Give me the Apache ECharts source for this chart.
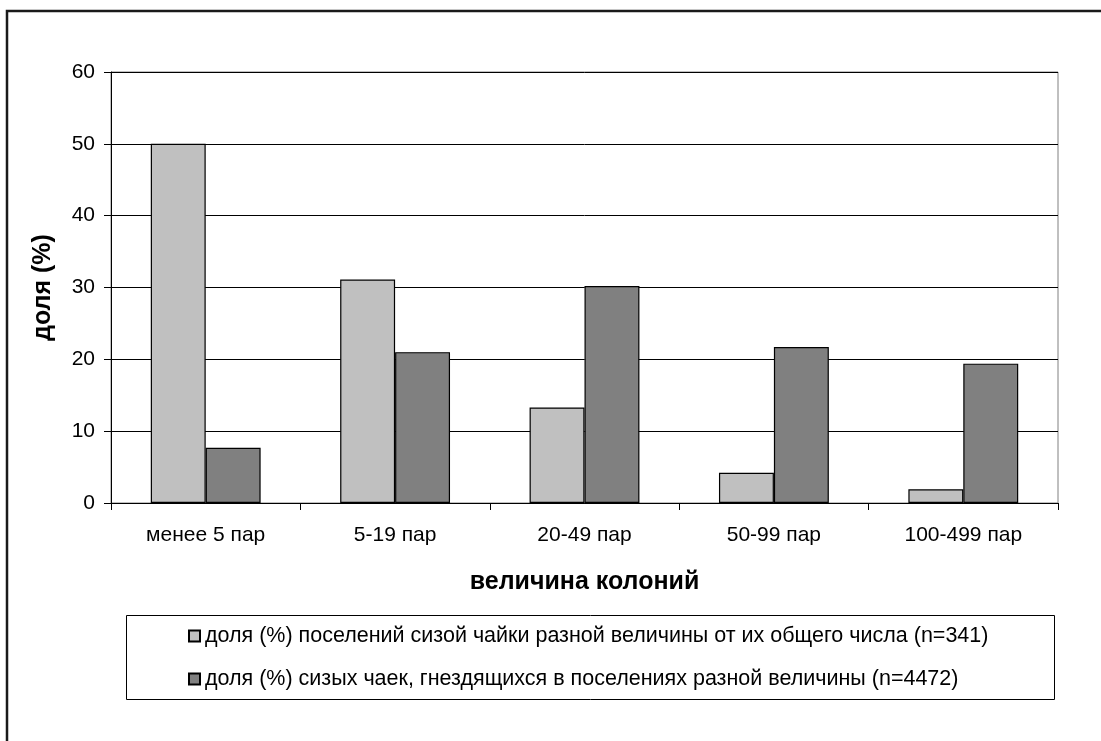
<!DOCTYPE html>
<html>
<head>
<meta charset="utf-8">
<script src="https://cdn.jsdelivr.net/npm/echarts@6/dist/echarts.min.js"></script>
<style>html,body{margin:0;padding:0;background:#fff}#c{width:1101px;height:741px}</style>
</head>
<body>
<div id="c"></div>
<script>
const categories = ['менее 5 пар', '5-19 пар', '20-49 пар', '50-99 пар', '100-499 пар'];
const seriesNames = [
  'доля (%) поселений сизой чайки разной величины от их общего числа (n=341)',
  'доля (%) сизых чаек, гнездящихся в поселениях разной величины (n=4472)'
];
const settlementsShare = [50, 31.1, 13.3, 4.2, 1.9];
const gullsShare = [7.7, 21.0, 30.2, 21.7, 19.4];
const yTicks = [0, 10, 20, 30, 40, 50, 60];

const chart = echarts.init(document.getElementById('c'), null, {renderer: 'canvas'});
const font = 'Arial, "Liberation Sans", sans-serif';
chart.setOption({
  animation: false,
  backgroundColor: '#fff',
  textStyle: {fontFamily: font},
  grid: {left: 111, right: 43, top: 72, bottom: 238, show: true, borderColor: '#808080', borderWidth: 1, containLabel: false},
  xAxis: {
    type: 'category',
    data: categories,
    name: 'величина колоний',
    nameLocation: 'middle',
    nameGap: 67,
    nameTextStyle: {fontSize: 25, fontWeight: 'bold', color: '#000', fontFamily: font},
    axisLine: {lineStyle: {color: '#000', width: 1}},
    axisTick: {show: true, length: 7, lineStyle: {color: '#000'}, alignWithLabel: false},
    axisLabel: {fontSize: 21, color: '#000', margin: 22, fontFamily: font},
    splitLine: {show: false}
  },
  yAxis: {
    type: 'value',
    min: yTicks[0],
    max: yTicks[yTicks.length - 1],
    interval: 10,
    name: 'доля (%)',
    nameLocation: 'middle',
    nameGap: 55,
    nameRotate: 90,
    nameTextStyle: {fontSize: 25, fontWeight: 'bold', color: '#000', fontFamily: font},
    axisLine: {show: true, lineStyle: {color: '#000', width: 1}},
    axisTick: {show: true, length: 7, lineStyle: {color: '#000'}},
    axisLabel: {fontSize: 21, color: '#000', margin: 16, fontFamily: font},
    splitLine: {show: true, lineStyle: {color: '#000', width: 1}}
  },
  legend: {
    orient: 'vertical',
    left: 183,
    top: 619,
    itemGap: 19,
    itemWidth: 11,
    itemHeight: 11,
    icon: 'rect',
    textStyle: {fontSize: 21.5, color: '#000', fontFamily: font, lineHeight: 24},
    data: seriesNames
  },
  graphic: [
    {type: 'rect', shape: {x: 126.5, y: 615.5, width: 928, height: 84}, style: {fill: 'none', stroke: '#000', lineWidth: 1}, z: -1},
    {type: 'polyline', shape: {points: [[7, 800], [7, 11], [1200, 11]]}, style: {fill: 'none', stroke: '#1a1a1a', lineWidth: 2.5}, z: -1}
  ],
  series: [
    {
      name: seriesNames[0], type: 'bar', data: settlementsShare,
      barGap: '0%', barCategoryGap: '42%',
      itemStyle: {color: '#C0C0C0', borderColor: '#000', borderWidth: 1.2}
    },
    {
      name: seriesNames[1], type: 'bar', data: gullsShare,
      barGap: '0%', barCategoryGap: '42%',
      itemStyle: {color: '#808080', borderColor: '#000', borderWidth: 1.2}
    }
  ]
});
</script>
</body>
</html>
